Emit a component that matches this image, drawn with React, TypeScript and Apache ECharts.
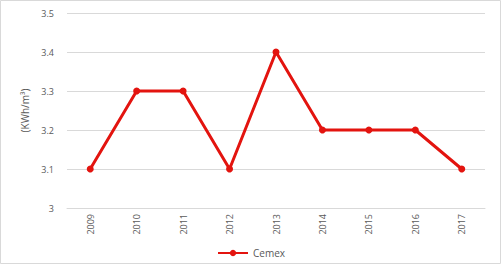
import React, { useEffect, useRef } from "react";
import * as echarts from "echarts";

const years = ["2009", "2010", "2011", "2012", "2013", "2014", "2015", "2016", "2017"];
const cemex = [3.1, 3.3, 3.3, 3.1, 3.4, 3.2, 3.2, 3.2, 3.1];
const seriesName = "Cemex";
const yAxisName = "(KWh/m³)";

export default function App() {
  const ref = useRef<HTMLDivElement>(null);
  useEffect(() => {
    document.body.style.margin = "0";
    const chart = echarts.init(ref.current!, null, { renderer: "svg" });
    const font = "Open Sans";
    chart.setOption({
      animation: false,
      backgroundColor: "#ffffff",
      textStyle: { fontFamily: font },
      graphic: [
        {
          type: "rect",
          shape: { x: 0.5, y: 0.5, width: 500, height: 263 },
          style: { fill: "none", stroke: "#d9d9d9", lineWidth: 1 },
          silent: true,
        },
      ],
      grid: { left: 67, right: 17, top: 13, bottom: 60 },
      legend: {
        data: [seriesName],
        left: "center",
        top: 243,
        itemWidth: 30,
        itemHeight: 8,
        itemGap: 4,
        textStyle: { color: "#595959", fontSize: 10, fontFamily: font },
      },
      xAxis: {
        type: "category",
        data: years,
        boundaryGap: true,
        axisLine: { show: true, lineStyle: { color: "#d9d9d9", width: 1 } },
        axisTick: { show: false },
        axisLabel: { rotate: 90, color: "#595959", fontSize: 9, margin: 6, fontFamily: font },
      },
      yAxis: {
        type: "value",
        min: 3,
        max: 3.5,
        interval: 0.1,
        name: yAxisName,
        nameLocation: "middle",
        nameGap: 31,
        nameRotate: 90,
        nameTextStyle: { color: "#595959", fontSize: 10, fontFamily: font },
        axisLine: { show: false },
        axisTick: { show: false },
        splitLine: { lineStyle: { color: "#d9d9d9", width: 1 } },
        axisLabel: {
          color: "#595959",
          fontSize: 9,
          margin: 13,
          fontFamily: font,
          formatter: (v: number) => String(Math.round(v * 10) / 10),
        },
      },
      series: [
        {
          name: seriesName,
          type: "line",
          data: cemex,
          symbol: "circle",
          symbolSize: 7,
          lineStyle: { color: "#e3140f", width: 3 },
          itemStyle: { color: "#e3140f" },
        },
      ],
    });
    return () => chart.dispose();
  }, []);
  return <div ref={ref} style={{ width: 502, height: 268 }} />;
}
